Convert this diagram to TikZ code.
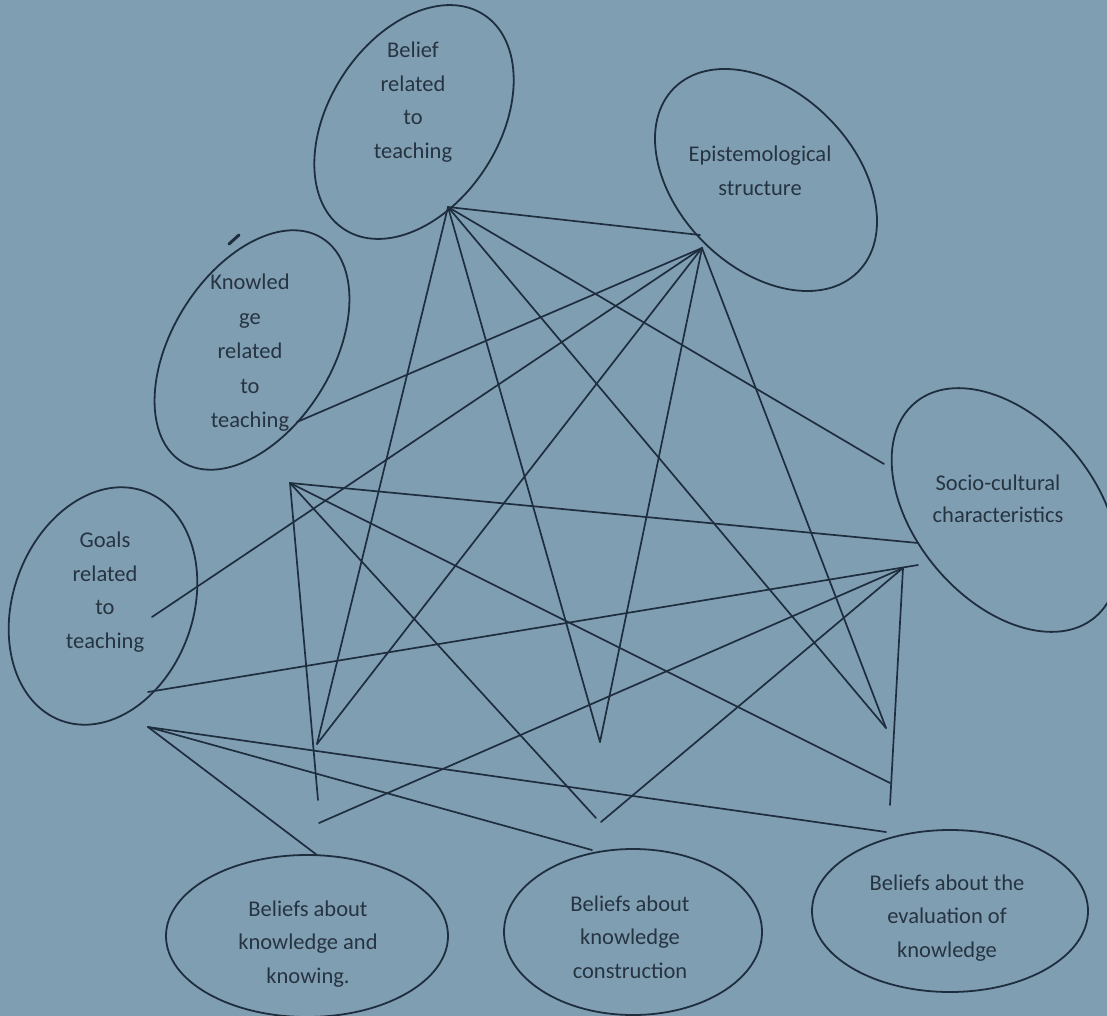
\documentclass[tikz,border=0pt]{standalone}
\usepackage{fontspec}
\setmainfont{Carlito}
\usetikzlibrary{shapes.geometric}
\definecolor{bgc}{RGB}{128,158,178}
\definecolor{ink}{RGB}{30,46,62}
\definecolor{txtc}{RGB}{38,52,66}
\tikzset{
  bubble/.style={ellipse, draw=ink, line width=1.8pt, inner sep=0pt, outer sep=0pt},
  words/.style={text=txtc, align=center, font=\fontsize{22.5}{33.5}\selectfont, inner sep=0pt},
  link/.style={draw=ink, line width=1.7pt, line cap=round},
}
\begin{document}
\begin{tikzpicture}[x=1pt,y=-1pt]
\useasboundingbox (0,0) rectangle (1107,1016);
\clip (0,0) rectangle (1107,1016);
\fill[bgc] (0,0) rectangle (1107,1016);

% ellipses
\node[bubble, minimum width=256pt, minimum height=170pt, rotate=57] (belief) at (414,122) {};
\node[bubble, minimum width=260pt, minimum height=176pt, rotate=-45] (epist) at (766,180) {};
\node[bubble, minimum width=264pt, minimum height=160pt, rotate=58] (know) at (252,350) {};
\node[bubble, minimum width=244pt, minimum height=180pt, rotate=70] (goals) at (103,606) {};
\node[bubble, minimum width=280pt, minimum height=180pt, rotate=-50] (socio) at (1005,510) {};
\node[bubble, minimum width=282pt, minimum height=162pt] (bkk) at (307,936) {};
\node[bubble, minimum width=258pt, minimum height=166pt] (bkc) at (633,932) {};
\node[bubble, minimum width=276pt, minimum height=162pt] (bek) at (950,911) {};

% texts
\node[words] (beliefT) at (413,102) {Belief\\related\\to\\teaching};
\node[words] (epistT) at (760,171) {Epistemological\\structure};
\node[words, font=\fontsize{22.5}{34.5}\selectfont] (knowT) at (250,353) {Knowled\\ge\\related\\to\\teaching};
\node[words] (goalsT) at (105,592) {Goals\\related\\to\\teaching};
\node[words, font=\fontsize{22.5}{32}\selectfont] (socioT) at (998,499) {Socio-cultural\\characteristics};
\node[words] (bkkT) at (308,944) {Beliefs about\\knowledge and\\knowing.};
\node[words] (bkcT) at (630,937) {Beliefs about\\knowledge\\construction};
\node[words] (bekT) at (947,918) {Beliefs about the\\evaluation of\\knowledge};

% connection points
\coordinate (aHub) at (448,207);
\coordinate (eIn) at (700,235);
\coordinate (eHub) at (702,248);
\coordinate (kEnd) at (297,422);
\coordinate (gIn) at (152,617);
\coordinate (gMid) at (148,692);
\coordinate (gLow) at (148,727);
\coordinate (sEdgeA) at (884,464);
\coordinate (sEdgeL) at (918,543);
\coordinate (sG) at (918,565);
\coordinate (sHub) at (903,568);
\coordinate (lTop) at (290,483);
\coordinate (lV) at (317,744);
\coordinate (lVert) at (318,800);
\coordinate (lLow) at (319,823);
\coordinate (mV) at (600,742);
\coordinate (mLowA) at (596,818);
\coordinate (mLowB) at (601,822);
\coordinate (rV) at (886,728);
\coordinate (rL) at (890,783);
\coordinate (rVert) at (890,805);
\coordinate (bkkTop) at (317,855);
\coordinate (bkcTop) at (592,850);
\coordinate (bekTop) at (886,832);

% from belief hub
\draw[link] (aHub) -- (eIn);
\draw[link] (aHub) -- (lV);
\draw[link] (aHub) -- (mV);
\draw[link] (aHub) -- (rV);
\draw[link] (aHub) -- (sEdgeA);
% from epistemological hub
\draw[link] (eHub) -- (kEnd);
\draw[link] (eHub) -- (gIn);
\draw[link] (eHub) -- (lV);
\draw[link] (eHub) -- (mV);
\draw[link] (eHub) -- (rV);
% from left apex
\draw[link] (lTop) -- (sEdgeL);
\draw[link] (lTop) -- (lVert);
\draw[link] (lTop) -- (mLowA);
\draw[link] (lTop) -- (rL);
% from socio hub
\draw[link] (gMid) -- (sG);
\draw[link] (sHub) -- (lLow);
\draw[link] (sHub) -- (mLowB);
\draw[link] (sHub) -- (rVert);
% from goals to bottom ellipses
\draw[link] (gLow) -- (bkkTop);
\draw[link] (gLow) -- (bkcTop);
\draw[link] (gLow) -- (bekTop);

% stray pen mark
\draw[ink, line width=3pt, line cap=round] (229,244) -- (239,235);
\end{tikzpicture}
\end{document}
